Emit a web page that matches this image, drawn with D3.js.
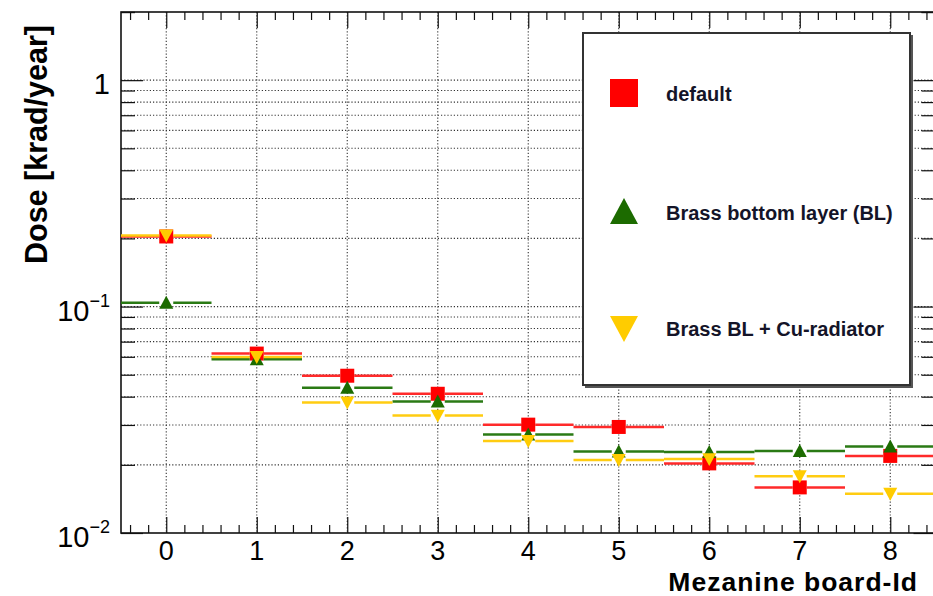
<!DOCTYPE html>
<html>
<head>
<meta charset="utf-8">
<script src="https://cdn.jsdelivr.net/npm/d3@7"></script>
<style>
  html, body { margin: 0; padding: 0; background: #fff; }
  svg { display: block; font-family: "Liberation Sans", Arial, Helvetica, sans-serif; }
</style>
</head>
<body>
<svg id="chart" width="933" height="596"></svg>
<script>
// ---- data ----
const boards = [0, 1, 2, 3, 4, 5, 6, 7, 8];
const defaultDose = [0.204, 0.0620, 0.0495, 0.0412, 0.0301, 0.0294, 0.0203, 0.0159, 0.0219];
const brassBLDose = [0.104, 0.0585, 0.0438, 0.0381, 0.0272, 0.0229, 0.0228, 0.0230, 0.0241];
const brassCuDose = [0.206, 0.0599, 0.0377, 0.0330, 0.0255, 0.0210, 0.0212, 0.0178, 0.0149];
const seriesNames = ["default", "Brass bottom layer (BL)", "Brass BL + Cu-radiator"];
const yMajorTicks = [0.01, 0.1, 1];
const yMajorLabels = [["10", "\u22122"], ["10", "\u22121"], ["1", ""]];
const xTickLabels = ["0", "1", "2", "3", "4", "5", "6", "7", "8"];
const xTitle = "Mezanine board-Id";
const yTitle = "Dose [krad/year]";

const series = [
  { name: seriesNames[0], values: defaultDose, color: "#ff0000", line: "#ff2a2a", shape: "square" },
  { name: seriesNames[1], values: brassBLDose, color: "#1c6b00", line: "#2a7a14", shape: "up" },
  { name: seriesNames[2], values: brassCuDose, color: "#ffcc00", line: "#ffcc11", shape: "down" }
];

// ---- layout ----
const L = 121, R = 935.5, T = 12, B = 533;
const svg = d3.select("#chart");
const x = d3.scaleLinear().domain([-0.5, 8.5]).range([L, R]);
const y = d3.scaleLog().domain([0.01, 2]).range([B, T]);

// minor / all y ticks
const yAll = [];
[0.01, 0.1, 1].forEach(d => { for (let k = 1; k <= 9; k++) { const v = d * k; if (v <= 2.0001) yAll.push(+v.toPrecision(3)); } });
yAll.push(2);
const yMinor = yAll.filter(v => !yMajorTicks.includes(v));
const xMinor = d3.range(-5, 86).map(i => i / 10).filter(v => Math.abs(v * 5 - Math.round(v * 5)) < 1e-6 && Math.abs(v - Math.round(v)) > 1e-6);

// ---- grid ----
const grid = svg.append("g").attr("stroke", "#333").attr("stroke-width", 1.1).attr("stroke-dasharray", "1.2,2");
grid.selectAll("line.gx").data(boards).join("line")
  .attr("x1", d => x(d)).attr("x2", d => x(d)).attr("y1", T).attr("y2", B);
grid.selectAll("line.gy").data(yAll.filter(v => v > 0.01 && v < 2)).join("line")
  .attr("x1", L).attr("x2", R).attr("y1", d => y(d)).attr("y2", d => y(d));

// ---- axes (ticks via d3 axes) ----
function styleAxis(g) {
  g.select(".domain").remove();
  g.selectAll("line").attr("stroke", "#111").attr("stroke-width", 1.2);
  g.selectAll("text").remove();
}
svg.append("g").attr("transform", `translate(0,${B})`)
  .call(d3.axisBottom(x).tickValues(boards).tickSize(-16).tickFormat("")).call(styleAxis);
svg.append("g").attr("transform", `translate(0,${B})`)
  .call(d3.axisBottom(x).tickValues(xMinor).tickSize(-8).tickFormat("")).call(styleAxis);
svg.append("g").attr("transform", `translate(0,${T})`)
  .call(d3.axisTop(x).tickValues(boards).tickSize(-16).tickFormat("")).call(styleAxis);
svg.append("g").attr("transform", `translate(0,${T})`)
  .call(d3.axisTop(x).tickValues(xMinor).tickSize(-8).tickFormat("")).call(styleAxis);
svg.append("g").attr("transform", `translate(${L},0)`)
  .call(d3.axisLeft(y).tickValues(yMajorTicks).tickSize(-22).tickFormat("")).call(styleAxis);
svg.append("g").attr("transform", `translate(${L},0)`)
  .call(d3.axisLeft(y).tickValues(yMinor).tickSize(-14).tickFormat("")).call(styleAxis);
svg.append("g").attr("transform", `translate(${R},0)`)
  .call(d3.axisRight(y).tickValues(yMajorTicks).tickSize(-22).tickFormat("")).call(styleAxis);
svg.append("g").attr("transform", `translate(${R},0)`)
  .call(d3.axisRight(y).tickValues(yMinor).tickSize(-14).tickFormat("")).call(styleAxis);

// frame
svg.append("rect").attr("x", L).attr("y", T).attr("width", R - L).attr("height", B - T)
  .attr("fill", "none").attr("stroke", "#111").attr("stroke-width", 1.6);

// ---- tick labels ----
svg.append("g").selectAll("text").data(boards).join("text")
  .attr("x", d => x(d)).attr("y", B + 27).attr("text-anchor", "middle")
  .attr("font-size", 27).attr("fill", "#000").text((d, i) => xTickLabels[i]);

const yl = svg.append("g").selectAll("text").data(yMajorTicks).join("text")
  .attr("x", 110).attr("y", d => y(d) + 14).attr("text-anchor", "end")
  .attr("font-size", 29).attr("fill", "#000");
yl.append("tspan").text((d, i) => yMajorLabels[i][0]);
yl.append("tspan").attr("font-size", 18).attr("dy", -14).text((d, i) => yMajorLabels[i][1]);

// ---- titles ----
svg.append("text").attr("x", 918).attr("y", 590.5).attr("text-anchor", "end")
  .attr("font-size", 26.5).attr("letter-spacing", 1).attr("font-weight", "bold").attr("fill", "#000").text(xTitle);
svg.append("text").attr("transform", "translate(47,25) rotate(-90)").attr("text-anchor", "end")
  .attr("font-size", 30.5).attr("font-weight", "bold").attr("fill", "#000").text(yTitle);

// ---- markers ----
function markerPath(shape, s) {
  const h = s / 2;
  if (shape === "square") return `M${-h},${-h}H${h}V${h}H${-h}Z`;
  if (shape === "up") return `M0,${-h}L${h},${h * 0.85}L${-h},${h * 0.85}Z`;
  return `M0,${h}L${h},${-h * 0.85}L${-h},${-h * 0.85}Z`;
}

const plot = svg.append("g");
const gap = 7;
series.forEach(s => {
  const g = plot.append("g");
  const pts = boards.map((b, i) => ({ b, v: s.values[i] }));
  g.selectAll("line.l").data(pts).join("line")
    .attr("x1", d => x(d.b - 0.5)).attr("x2", d => x(d.b) - gap)
    .attr("y1", d => y(d.v)).attr("y2", d => y(d.v))
    .attr("stroke", s.line).attr("stroke-width", 2.5);
  g.selectAll("line.r").data(pts).join("line")
    .attr("x1", d => x(d.b) + gap).attr("x2", d => x(d.b + 0.5))
    .attr("y1", d => y(d.v)).attr("y2", d => y(d.v))
    .attr("stroke", s.line).attr("stroke-width", 2.5);
  g.selectAll("path").data(pts).join("path")
    .attr("transform", d => `translate(${x(d.b)},${y(d.v)})`)
    .attr("d", markerPath(s.shape, 14)).attr("fill", s.color);
});

// ---- legend ----
const lg = svg.append("g");
lg.append("rect").attr("x", 585).attr("y", 35).attr("width", 328).attr("height", 353).attr("fill", "#555");
lg.append("rect").attr("x", 583).attr("y", 33).attr("width", 327).attr("height", 352)
  .attr("fill", "#fff").attr("stroke", "#333").attr("stroke-width", 2);
const rowY = [93, 212, 328];
series.forEach((s, i) => {
  lg.append("path").attr("transform", `translate(624,${rowY[i]})`)
    .attr("d", markerPath(s.shape, 28)).attr("fill", s.color);
  lg.append("text").attr("x", 666).attr("y", rowY[i] + 8).attr("font-size", 20)
    .attr("font-weight", "bold").attr("fill", "#141428").text(s.name);
});
</script>
</body>
</html>
